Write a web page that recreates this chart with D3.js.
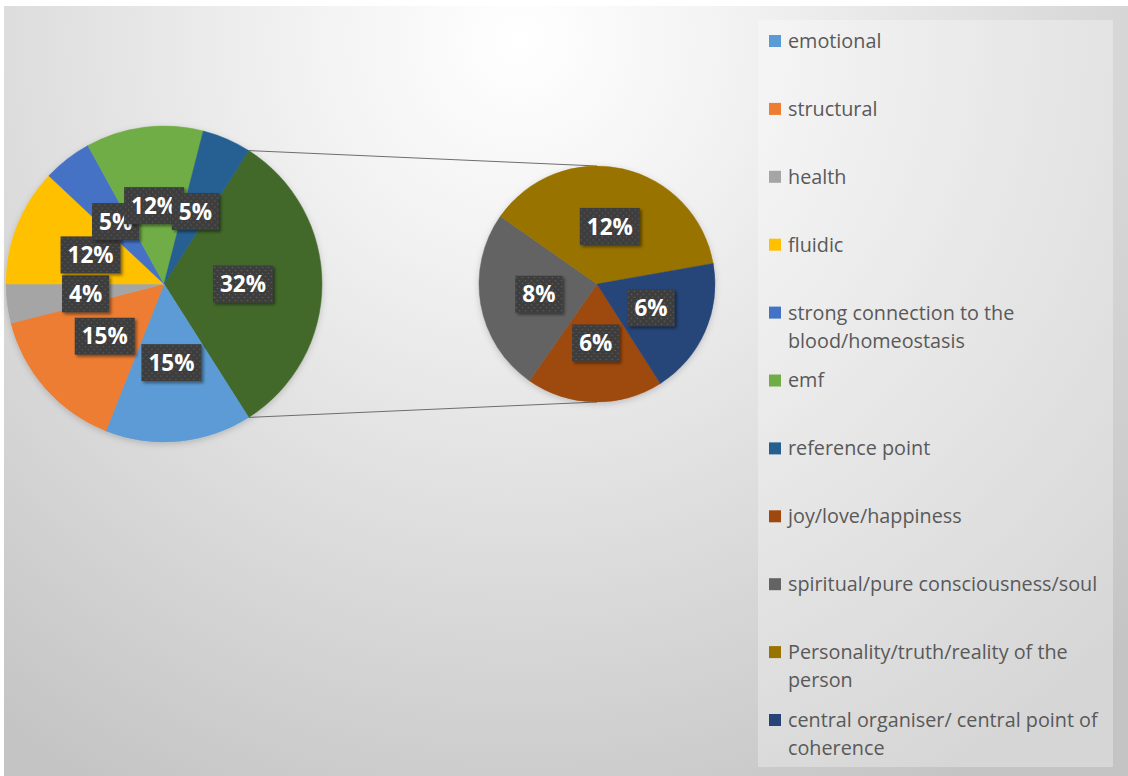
<!DOCTYPE html>
<html>
<head>
<meta charset="utf-8">
<script src="https://cdn.jsdelivr.net/npm/d3@7/dist/d3.min.js"></script>
<style>
  html, body { margin: 0; padding: 0; background: #ffffff; }
  svg { display: block; }
</style>
</head>
<body>
<svg id="chart" width="1128" height="776"></svg>
<script>
// Primary pie categories and their shares (percent)
const mainCategories = ["emotional", "structural", "health", "fluidic",
  "strong connection to the blood/homeostasis", "emf", "reference point"];
const mainValues = [15, 15, 4, 12, 5, 12, 5];
const mainColors = ["#5B9BD5", "#ED7D31", "#A5A5A5", "#FFC000", "#4472C4", "#70AD47", "#255E91"];

// Secondary pie categories (split out from the "Other" slice)
const subCategories = ["joy/love/happiness", "spiritual/pure consciousness/soul",
  "Personality/truth/reality of the person", "central organiser/ central point of coherence"];
const subValues = [6, 8, 12, 6];
const subColors = ["#9E480E", "#636363", "#997300", "#264478"];

const otherColor = "#43682B";

// Legend lines (long names wrap onto a second line)
const legendLines = [
  ["emotional"], ["structural"], ["health"], ["fluidic"],
  ["strong connection to the", "blood/homeostasis"], ["emf"], ["reference point"],
  ["joy/love/happiness"], ["spiritual/pure consciousness/soul"],
  ["Personality/truth/reality of the", "person"],
  ["central organiser/ central point of", "coherence"]
];

const W = 1128, H = 776;
const svg = d3.select("#chart");
const defs = svg.append("defs");

// Chart-area background: soft radial grey gradient
const bg = defs.append("radialGradient").attr("id", "bgGrad")
  .attr("gradientUnits", "userSpaceOnUse")
  .attr("cx", 520).attr("cy", 40).attr("r", 860);
bg.append("stop").attr("offset", 0).attr("stop-color", "#ffffff");
bg.append("stop").attr("offset", 0.25).attr("stop-color", "#f2f2f2");
bg.append("stop").attr("offset", 1).attr("stop-color", "#c4c4c4");

// Dotted fill for data-label boxes
const pat = defs.append("pattern").attr("id", "dots")
  .attr("patternUnits", "userSpaceOnUse").attr("width", 6).attr("height", 6);
pat.append("rect").attr("width", 6).attr("height", 6).attr("fill", "#3d3d3d");
pat.append("circle").attr("cx", 1.5).attr("cy", 1.5).attr("r", 0.8).attr("fill", "#5c5c5c");
pat.append("circle").attr("cx", 4.5).attr("cy", 4.5).attr("r", 0.8).attr("fill", "#5c5c5c");

// Drop shadow for labels and pies
const sh = defs.append("filter").attr("id", "shadow")
  .attr("x", "-30%").attr("y", "-30%").attr("width", "160%").attr("height", "160%");
sh.append("feDropShadow").attr("dx", 2).attr("dy", 2).attr("stdDeviation", 1.6)
  .attr("flood-color", "#000").attr("flood-opacity", 0.45);
const psh = defs.append("filter").attr("id", "pieShadow")
  .attr("x", "-20%").attr("y", "-20%").attr("width", "140%").attr("height", "140%");
psh.append("feDropShadow").attr("dx", 0).attr("dy", 2).attr("stdDeviation", 3)
  .attr("flood-color", "#000").attr("flood-opacity", 0.18);

svg.append("rect").attr("width", W).attr("height", H).attr("fill", "#ffffff");
svg.append("rect").attr("x", 4).attr("y", 6).attr("width", W - 4).attr("height", H - 6)
  .attr("fill", "url(#bgGrad)");

// Geometry
const c1 = { x: 164, y: 284, r: 158 };
const c2 = { x: 597, y: 284, r: 118 };

const otherValue = d3.sum(subValues);
const total = d3.sum(mainValues) + otherValue;
const pct = v => d3.format(".0f")(v / total * 100) + "%";

// Primary pie: "Other" slice first, centred on the 3 o'clock direction
const mainData = [{ name: "Other", value: otherValue, color: otherColor }]
  .concat(mainCategories.map((n, i) => ({ name: n, value: mainValues[i], color: mainColors[i] })));
const otherSpan = otherValue / total * 2 * Math.PI;
const start1 = Math.PI / 2 - otherSpan / 2;
const pie1 = d3.pie().sort(null).value(d => d.value)
  .startAngle(start1).endAngle(start1 + 2 * Math.PI);
const arcs1 = pie1(mainData);

// Secondary pie
const subData = subCategories.map((n, i) => ({ name: n, value: subValues[i], color: subColors[i] }));
const start2 = 147.5 * Math.PI / 180;
const pie2 = d3.pie().sort(null).value(d => d.value)
  .startAngle(start2).endAngle(start2 + 2 * Math.PI);
const arcs2 = pie2(subData);

const arc1 = d3.arc().innerRadius(0).outerRadius(c1.r);
const arc2 = d3.arc().innerRadius(0).outerRadius(c2.r);

// Connector lines from the "Other" slice edges to the secondary pie
const pt = (c, a) => [c.x + c.r * Math.sin(a), c.y - c.r * Math.cos(a)];
const otherArc = arcs1[0];
const p1a = pt(c1, otherArc.startAngle), p1b = pt(c1, otherArc.endAngle);
svg.append("line").attr("x1", p1a[0]).attr("y1", p1a[1]).attr("x2", c2.x).attr("y2", c2.y - c2.r)
  .attr("stroke", "#6e6e6e").attr("stroke-width", 1);
svg.append("line").attr("x1", p1b[0]).attr("y1", p1b[1]).attr("x2", c2.x).attr("y2", c2.y + c2.r)
  .attr("stroke", "#6e6e6e").attr("stroke-width", 1);

const g1 = svg.append("g").attr("transform", `translate(${c1.x},${c1.y})`).attr("filter", "url(#pieShadow)");
g1.selectAll("path").data(arcs1).join("path")
  .attr("d", arc1).attr("fill", d => d.data.color)
  .attr("stroke", d => d.data.color).attr("stroke-width", 0.5);

const g2 = svg.append("g").attr("transform", `translate(${c2.x},${c2.y})`).attr("filter", "url(#pieShadow)");
g2.selectAll("path").data(arcs2).join("path")
  .attr("d", arc2).attr("fill", d => d.data.color)
  .attr("stroke", d => d.data.color).attr("stroke-width", 0.5);

// Data labels: dark dotted boxes with white bold percentages at slice centroids,
// on their own layers so the pie shadow filter does not apply to them
const lab1 = svg.append("g").attr("transform", `translate(${c1.x},${c1.y})`);
const lab2 = svg.append("g").attr("transform", `translate(${c2.x},${c2.y})`);
const mainLabelOrder = arcs1.slice(1).concat(arcs1.slice(0, 1));
[[lab1, mainLabelOrder, arc1], [lab2, arcs2, arc2]].forEach(([g, arr, gen]) => {
  arr.forEach(d => {
    const [x, y] = gen.centroid(d);
    const lg = g.append("g").attr("transform", `translate(${x},${y})`);
    const box = lg.append("rect").attr("fill", "url(#dots)").attr("filter", "url(#shadow)");
    const t = lg.append("text").text(pct(d.data.value))
      .attr("text-anchor", "middle").attr("dy", "0.36em")
      .attr("font-family", "'Open Sans', sans-serif").attr("font-weight", 700)
      .attr("font-size", 22.5).attr("fill", "#ffffff");
    const w = t.node().getComputedTextLength() + 14;
    const h = 37;
    box.attr("x", -w / 2).attr("y", -h / 2).attr("width", w).attr("height", h);
  });
});

// Legend
const legend = svg.append("g");
legend.append("rect").attr("x", 758).attr("y", 20).attr("width", 355).attr("height", 747)
  .attr("fill", "#ffffff").attr("fill-opacity", 0.3);
const legendColors = mainColors.concat(subColors);
const yStep = d3.scaleLinear().domain([0, legendLines.length - 1]).range([41, 720]);
legendLines.forEach((lines, i) => {
  const y = yStep(i);
  legend.append("rect").attr("x", 769).attr("y", y - 6).attr("width", 12).attr("height", 12)
    .attr("fill", legendColors[i]);
  lines.forEach((ln, j) => {
    legend.append("text").attr("x", 788).attr("y", y + j * 28).attr("dy", "0.35em")
      .attr("font-family", "'Open Sans', sans-serif").attr("font-size", 19.8)
      .attr("fill", "#595959").text(ln);
  });
});
</script>
</body>
</html>
